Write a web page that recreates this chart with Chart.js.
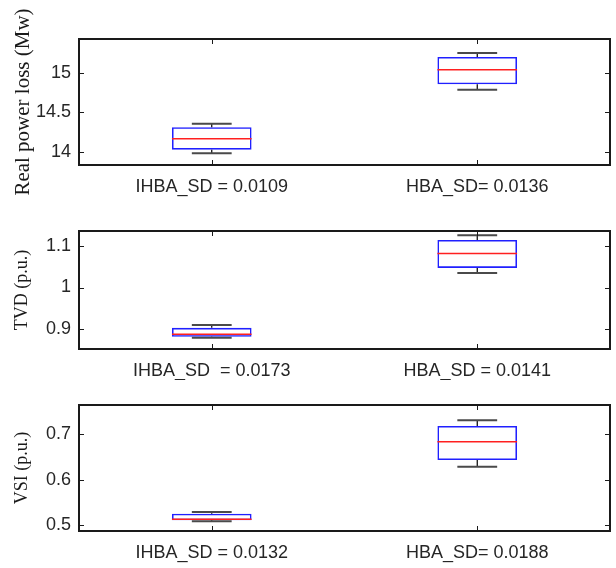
<!DOCTYPE html>
<html>
<head>
<meta charset="utf-8">
<script src="https://cdn.jsdelivr.net/npm/chart.js@4.4.1/dist/chart.umd.min.js"></script>
<style>
  body { margin: 0; background: #fff; width: 616px; height: 568px; overflow: hidden; }
  .panel { position: absolute; left: 0; width: 616px; }
</style>
</head>
<body>
<div class="panel" style="top:0px"><canvas id="lossChart" width="616" height="200"></canvas></div>
<div class="panel" style="top:200px"><canvas id="tvdChart" width="616" height="180"></canvas></div>
<div class="panel" style="top:380px"><canvas id="vsiChart" width="616" height="188"></canvas></div>
<script>
// datos (min, q1, mediana, q3, max)
const lossLabels = ['IHBA_SD = 0.0109', 'HBA_SD= 0.0136'];
const lossMin = [13.984, 14.789];
const lossQ1 = [14.029, 14.857];
const lossMed = [14.168, 15.042];
const lossQ3 = [14.313, 15.203];
const lossMax = [14.358, 15.253];
const lossTicks = [14, 14.5, 15];
const lossRange = [13.835, 15.43];

const tvdLabels = ['IHBA_SD  = 0.0173', 'HBA_SD = 0.0141'];
const tvdMin = [0.878, 1.0355];
const tvdQ1 = [0.8807, 1.0476];
const tvdMed = [0.8865, 1.0824];
const tvdQ3 = [0.9024, 1.1153];
const tvdMax = [0.909, 1.1266];
const tvdTicks = [0.9, 1, 1.1];
const tvdRange = [0.851, 1.137];

const vsiLabels = ['IHBA_SD = 0.0132', 'HBA_SD= 0.0188'];
const vsiMin = [0.5082, 0.6286];
const vsiQ1 = [0.5104, 0.6433];
const vsiMed = [0.5126, 0.6837];
const vsiQ3 = [0.525, 0.7183];
const vsiMax = [0.5287, 0.7309];
const vsiTicks = [0.5, 0.6, 0.7];
const vsiRange = [0.4868, 0.7646];

const textColor = '#262626';
const sansFont = '"Liberation Sans", Arial, sans-serif';
const serifFont = '"Liberation Serif", "Times New Roman", serif';

/* bigotes, mediana y marco estilo matlab */
const boxPlugin = {
  id: 'boxPlugin',
  afterDatasetsDraw(chart) {
    const ctx = chart.ctx;
    const x = chart.scales.x;
    const y = chart.scales.y;
    const st = chart.config.options.plugins.boxPlugin;
    const meta = chart.getDatasetMeta(0);
    ctx.save();
    meta.data.forEach((bar, i) => {
      const cx = bar.x;
      const half = bar.width / 2;
      const capHalf = bar.width / 4;
      const yMin = y.getPixelForValue(st.min[i]);
      const yQ1 = y.getPixelForValue(st.q1[i]);
      const yMed = y.getPixelForValue(st.med[i]);
      const yQ3 = y.getPixelForValue(st.q3[i]);
      const yMax = y.getPixelForValue(st.max[i]);
      // tallos
      ctx.strokeStyle = '#000';
      ctx.lineWidth = 1.2;
      ctx.beginPath();
      ctx.moveTo(cx, yQ3); ctx.lineTo(cx, yMax);
      ctx.moveTo(cx, yQ1); ctx.lineTo(cx, yMin);
      ctx.stroke();
      // topes
      ctx.strokeStyle = '#4a4a4a';
      ctx.lineWidth = 2;
      ctx.beginPath();
      ctx.moveTo(cx - capHalf, yMax); ctx.lineTo(cx + capHalf, yMax);
      ctx.moveTo(cx - capHalf, yMin); ctx.lineTo(cx + capHalf, yMin);
      ctx.stroke();
      // mediana
      ctx.strokeStyle = '#ff2020';
      ctx.lineWidth = 1.5;
      ctx.beginPath();
      ctx.moveTo(cx - half, yMed); ctx.lineTo(cx + half, yMed);
      ctx.stroke();
    });
    // marco y ticks hacia adentro
    const a = chart.chartArea;
    ctx.strokeStyle = '#1a1a1a';
    ctx.lineWidth = 1;
    ctx.beginPath();
    y.ticks.forEach(t => {
      const py = Math.round(y.getPixelForValue(t.value)) + 0.5;
      ctx.moveTo(a.left, py); ctx.lineTo(a.left + 5, py);
      ctx.moveTo(a.right, py); ctx.lineTo(a.right - 5, py);
    });
    x.ticks.forEach((t, i) => {
      const px = Math.round(x.getPixelForTick(i)) + 0.5;
      ctx.moveTo(px, a.top); ctx.lineTo(px, a.top + 5);
      ctx.moveTo(px, a.bottom); ctx.lineTo(px, a.bottom - 5);
    });
    ctx.stroke();
    ctx.lineWidth = 2;
    ctx.strokeRect(a.left, a.top, a.right - a.left, a.bottom - a.top);
    ctx.restore();
  }
};

function makeBoxChart(id, labels, mins, q1s, meds, q3s, maxs, ticks, range, title, titleSize, plotTop, plotBottom) {
  const canvas = document.getElementById(id);
  const h = canvas.height;
  return new Chart(canvas.getContext('2d'), {
    type: 'bar',
    data: {
      labels: labels,
      datasets: [{
        data: q1s.map((v, i) => [v, q3s[i]]),
        backgroundColor: 'rgba(0,0,0,0)',
        borderColor: '#2020ff',
        borderWidth: 1.6,
        borderSkipped: false,
        categoryPercentage: 1,
        barPercentage: 0.3
      }]
    },
    options: {
      responsive: false,
      animation: false,
      devicePixelRatio: 1,
      layout: { padding: { top: plotTop, right: 6, left: 0, bottom: 0 } },
      plugins: {
        legend: { display: false },
        tooltip: { enabled: false },
        boxPlugin: { min: mins, q1: q1s, med: meds, q3: q3s, max: maxs }
      },
      scales: {
        x: {
          grid: { display: false, drawTicks: false },
          border: { display: false },
          ticks: {
            color: textColor,
            padding: 11,
            maxRotation: 0,
            autoSkip: false,
            font: { family: sansFont, size: 18 }
          },
          afterFit: (scale) => { scale.height = h - plotBottom; }
        },
        y: {
          min: range[0],
          max: range[1],
          grid: { display: false, drawTicks: false },
          border: { display: false },
          afterBuildTicks: (scale) => { scale.ticks = ticks.map(v => ({ value: v })); },
          afterFit: (scale) => { scale.width = 79; },
          ticks: {
            color: textColor,
            padding: 8,
            font: { family: sansFont, size: 18 },
            callback: (v) => String(+Number(v).toFixed(2))
          },
          title: {
            display: true,
            text: title,
            color: '#1a1a1a',
            padding: { top: 11, bottom: 0 },
            font: { family: serifFont, size: titleSize }
          }
        }
      }
    },
    plugins: [boxPlugin]
  });
}

makeBoxChart('lossChart', lossLabels, lossMin, lossQ1, lossMed, lossQ3, lossMax, lossTicks, lossRange,
  'Real power loss (Mw)', 21, 39, 165);
makeBoxChart('tvdChart', tvdLabels, tvdMin, tvdQ1, tvdMed, tvdQ3, tvdMax, tvdTicks, tvdRange,
  'TVD (p.u.)', 18, 31, 149);
makeBoxChart('vsiChart', vsiLabels, vsiMin, vsiQ1, vsiMed, vsiQ3, vsiMax, vsiTicks, vsiRange,
  'VSI (p.u.)', 18, 25, 151);
</script>
</body>
</html>
